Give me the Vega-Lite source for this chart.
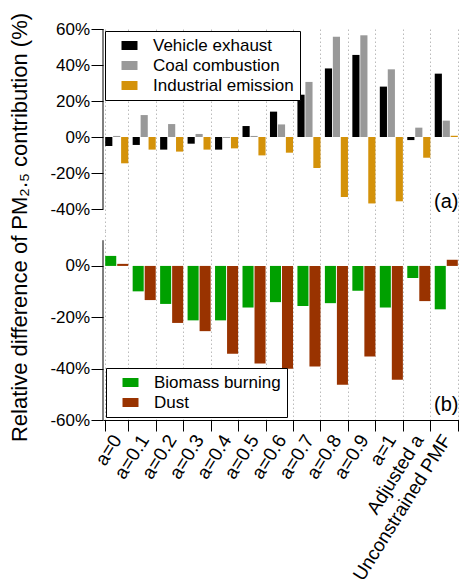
{
  "$schema": "https://vega.github.io/schema/vega-lite/v6.json",
  "padding": {"left": 8, "top": 12, "right": 0, "bottom": 0},
  "spacing": 0,
  "bounds": "flush",
  "config": {
    "font": "Liberation Sans",
    "view": {"stroke": null},
    "axis": {"labelColor": "black", "tickColor": "black", "domainColor": "black", "titleColor": "black", "labelFontSize": 17, "titleFontWeight": "normal"},
    "legend": {"labelFontSize": 17, "labelColor": "black"}
  },
  "datasets": {
    "a": [
      {"case": "a=0", "source": "Vehicle exhaust", "value": -5.0},
      {"case": "a=0", "source": "Coal combustion", "value": 0.6},
      {"case": "a=0", "source": "Industrial emission", "value": -14.6},
      {"case": "a=0.1", "source": "Vehicle exhaust", "value": -4.4},
      {"case": "a=0.1", "source": "Coal combustion", "value": 12.2},
      {"case": "a=0.1", "source": "Industrial emission", "value": -7.0},
      {"case": "a=0.2", "source": "Vehicle exhaust", "value": -7.0},
      {"case": "a=0.2", "source": "Coal combustion", "value": 7.2},
      {"case": "a=0.2", "source": "Industrial emission", "value": -8.1},
      {"case": "a=0.3", "source": "Vehicle exhaust", "value": -3.7},
      {"case": "a=0.3", "source": "Coal combustion", "value": 1.7},
      {"case": "a=0.3", "source": "Industrial emission", "value": -7.0},
      {"case": "a=0.4", "source": "Vehicle exhaust", "value": -7.0},
      {"case": "a=0.4", "source": "Coal combustion", "value": -0.5},
      {"case": "a=0.4", "source": "Industrial emission", "value": -6.3},
      {"case": "a=0.5", "source": "Vehicle exhaust", "value": 6.1},
      {"case": "a=0.5", "source": "Coal combustion", "value": 0.6},
      {"case": "a=0.5", "source": "Industrial emission", "value": -10.2},
      {"case": "a=0.6", "source": "Vehicle exhaust", "value": 14.1},
      {"case": "a=0.6", "source": "Coal combustion", "value": 7.0},
      {"case": "a=0.6", "source": "Industrial emission", "value": -8.7},
      {"case": "a=0.7", "source": "Vehicle exhaust", "value": 23.5},
      {"case": "a=0.7", "source": "Coal combustion", "value": 30.6},
      {"case": "a=0.7", "source": "Industrial emission", "value": -17.2},
      {"case": "a=0.8", "source": "Vehicle exhaust", "value": 38.1},
      {"case": "a=0.8", "source": "Coal combustion", "value": 55.7},
      {"case": "a=0.8", "source": "Industrial emission", "value": -33.3},
      {"case": "a=0.9", "source": "Vehicle exhaust", "value": 45.6},
      {"case": "a=0.9", "source": "Coal combustion", "value": 56.5},
      {"case": "a=0.9", "source": "Industrial emission", "value": -36.9},
      {"case": "a=1", "source": "Vehicle exhaust", "value": 28.0},
      {"case": "a=1", "source": "Coal combustion", "value": 37.6},
      {"case": "a=1", "source": "Industrial emission", "value": -35.7},
      {"case": "Adjusted a", "source": "Vehicle exhaust", "value": -1.7},
      {"case": "Adjusted a", "source": "Coal combustion", "value": 5.2},
      {"case": "Adjusted a", "source": "Industrial emission", "value": -11.5},
      {"case": "Unconstrained PMF", "source": "Vehicle exhaust", "value": 35.2},
      {"case": "Unconstrained PMF", "source": "Coal combustion", "value": 9.1},
      {"case": "Unconstrained PMF", "source": "Industrial emission", "value": 0.7}
    ],
    "b": [
      {"case": "a=0", "source": "Biomass burning", "value": 3.9},
      {"case": "a=0", "source": "Dust", "value": 0.8},
      {"case": "a=0.1", "source": "Biomass burning", "value": -9.9},
      {"case": "a=0.1", "source": "Dust", "value": -13.3},
      {"case": "a=0.2", "source": "Biomass burning", "value": -14.8},
      {"case": "a=0.2", "source": "Dust", "value": -22.2},
      {"case": "a=0.3", "source": "Biomass burning", "value": -21.2},
      {"case": "a=0.3", "source": "Dust", "value": -25.4},
      {"case": "a=0.4", "source": "Biomass burning", "value": -21.2},
      {"case": "a=0.4", "source": "Dust", "value": -34.2},
      {"case": "a=0.5", "source": "Biomass burning", "value": -16.2},
      {"case": "a=0.5", "source": "Dust", "value": -38.0},
      {"case": "a=0.6", "source": "Biomass burning", "value": -14.1},
      {"case": "a=0.6", "source": "Dust", "value": -40.0},
      {"case": "a=0.7", "source": "Biomass burning", "value": -15.6},
      {"case": "a=0.7", "source": "Dust", "value": -39.2},
      {"case": "a=0.8", "source": "Biomass burning", "value": -14.5},
      {"case": "a=0.8", "source": "Dust", "value": -46.3},
      {"case": "a=0.9", "source": "Biomass burning", "value": -9.7},
      {"case": "a=0.9", "source": "Dust", "value": -35.3},
      {"case": "a=1", "source": "Biomass burning", "value": -16.2},
      {"case": "a=1", "source": "Dust", "value": -44.3},
      {"case": "Adjusted a", "source": "Biomass burning", "value": -4.7},
      {"case": "Adjusted a", "source": "Dust", "value": -13.7},
      {"case": "Unconstrained PMF", "source": "Biomass burning", "value": -16.9},
      {"case": "Unconstrained PMF", "source": "Dust", "value": 2.4}
    ]
  },
  "resolve": {"scale": {"color": "independent", "x": "independent", "y": "independent", "xOffset": "independent"}, "legend": {"color": "independent"}},
  "vconcat": [
    {
      "width": 357,
      "height": 202,
      "layer": [
        {
          "data": {"name": "a"},
          "mark": {"type": "bar"},
          "encoding": {
            "x": {
              "field": "case", "type": "nominal",
              "scale": {"type": "band", "domain": ["a=0","a=0.1","a=0.2","a=0.3","a=0.4","a=0.5","a=0.6","a=0.7","a=0.8","a=0.9","a=1","Adjusted a","Unconstrained PMF"], "paddingInner": 0.16, "paddingOuter": 0.08},
              "axis": {"title": null, "labels": false, "ticks": false, "domain": false, "grid": true, "tickBand": "extent", "gridDash": [1.5, 2.5], "gridColor": "#bbbbbb"}
            },
            "xOffset": {"field": "source", "type": "nominal", "scale": {"domain": ["Vehicle exhaust", "Coal combustion", "Industrial emission"], "paddingInner": 0.1, "paddingOuter": 0}},
            "y": {
              "field": "value", "type": "quantitative", "stack": null,
              "scale": {"domain": [-52.2, 60], "nice": false},
              "axis": {"values": [-40, -20, 0, 20, 40, 60], "labelExpr": "datum.value + '%'", "tickSize": 12, "labelPadding": 1.4, "domain": false, "grid": false,
                "title": "Relative difference of PM₂.₅ contribution (%)", "titleFontSize": 22, "titleY": 198, "titlePadding": 18}
            },
            "color": {
              "field": "source", "type": "nominal",
              "scale": {"domain": ["Vehicle exhaust", "Coal combustion", "Industrial emission"], "range": ["#000000", "#999999", "#d4920a"]},
              "legend": {"title": null, "orient": "top-left", "offset": 2, "strokeColor": "black", "fillColor": "white", "padding": 6, "symbolOffset": 10, "labelOffset": 15, "rowPadding": 2, "symbolType": "M-1,-0.56L1,-0.56L1,0.56L-1,0.56Z", "symbolSize": 256, "symbolStrokeWidth": 0}
            }
          }
        },
        {
          "data": {"values": [{"k": 7}]},
          "mark": {"type": "rule", "color": "black"},
          "encoding": {
            "x": {"value": 0},
            "y": {"datum": -40, "type": "quantitative"},
            "y2": {"datum": 60}
          }
        },
        {
          "data": {"values": [{"k": 7}]},
          "mark": {"type": "text", "text": "(a)", "fontSize": 20, "baseline": "middle", "align": "center"},
          "encoding": {
            "x": {"datum": "Unconstrained PMF", "type": "nominal", "scale": {"type": "band"}},
            "y": {"datum": -36, "type": "quantitative"}
          }
        }
      ]
    },
    {
      "width": 357,
      "height": 189,
      "layer": [
        {
          "data": {"name": "b"},
          "mark": {"type": "bar"},
          "encoding": {
            "x": {
              "field": "case", "type": "nominal",
              "scale": {"type": "band", "domain": ["a=0","a=0.1","a=0.2","a=0.3","a=0.4","a=0.5","a=0.6","a=0.7","a=0.8","a=0.9","a=1","Adjusted a","Unconstrained PMF"], "paddingInner": 0.16, "paddingOuter": 0.08},
              "axis": {"title": null, "labelAngle": -58, "labelFontSize": 19, "tickSize": 11, "labelPadding": 5, "domain": true, "grid": true, "tickBand": "extent", "gridDash": [1.5, 2.5], "gridColor": "#bbbbbb"}
            },
            "xOffset": {"field": "source", "type": "nominal", "scale": {"domain": ["Biomass burning", "Dust"], "paddingInner": 0.08, "paddingOuter": 0}},
            "y": {
              "field": "value", "type": "quantitative", "stack": null,
              "scale": {"domain": [-60, 13.6], "nice": false},
              "axis": {"values": [10, 0, -10, -20, -30, -40, -50, -60], "labelExpr": "datum.value % 20 === 0 ? datum.value + '%' : ''", "tickSize": 12, "labelPadding": 1.4, "domain": false, "grid": false, "title": null,
                "encode": {"ticks": {"update": {"x2": {"signal": "datum.value % 20 === 0 ? -12 : -7"}}}}}
            },
            "color": {
              "field": "source", "type": "nominal",
              "scale": {"domain": ["Biomass burning", "Dust"], "range": ["#00a000", "#993300"]},
              "legend": {"title": null, "orient": "bottom-left", "offset": 3, "strokeColor": "black", "fillColor": "white", "padding": 6, "symbolOffset": 10, "labelOffset": 15, "rowPadding": 2, "symbolType": "M-1,-0.56L1,-0.56L1,0.56L-1,0.56Z", "symbolSize": 256, "symbolStrokeWidth": 0}
            }
          }
        },
        {
          "data": {"values": [{"k": 7}]},
          "mark": {"type": "rule", "color": "black"},
          "encoding": {
            "x": {"value": 0},
            "y": {"datum": -60, "type": "quantitative"},
            "y2": {"datum": 10}
          }
        },
        {
          "data": {"values": [{"k": 7}]},
          "mark": {"type": "text", "text": "(b)", "fontSize": 20, "baseline": "middle", "align": "center"},
          "encoding": {
            "x": {"datum": "Unconstrained PMF", "type": "nominal", "scale": {"type": "band"}},
            "y": {"datum": -54, "type": "quantitative"}
          }
        }
      ]
    }
  ]
}
